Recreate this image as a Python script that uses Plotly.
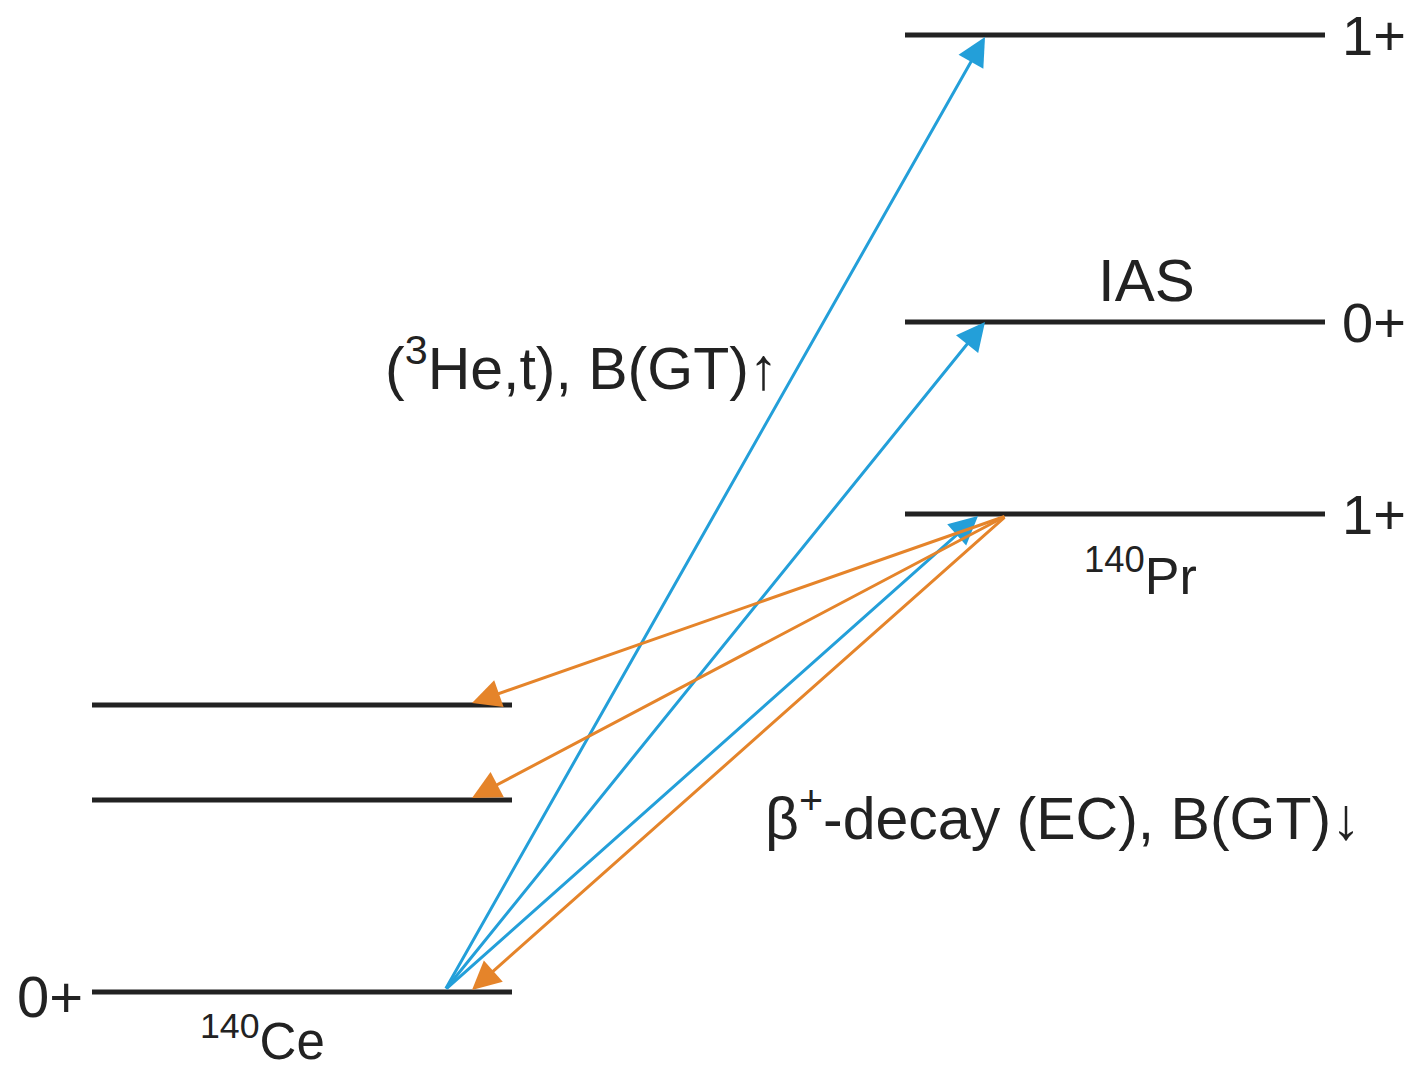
import plotly.graph_objects as go

# Level scheme of 140Ce -> 140Pr (energy in arbitrary drawing units)
ce_levels = [0, 192, 287]          # 140Ce: ground 0+ and two excited states
ce_span = [92, 512]
pr_levels = [478, 670, 957]        # 140Pr: 1+, IAS 0+, 1+
pr_span = [905, 1325]
pr_spins = ["1+", "0+", "1+"]

# Charge-exchange (3He,t) transitions: from 140Ce g.s. to 140Pr states
he3t_start = (445, 2)
he3t_ends_x = [978, 985, 985]
he3t_ends_e = [476, 670, 955]

# beta+ / EC transitions: from 140Pr 1+ to 140Ce states
ec_start = (1006, 476)
ec_ends_x = [472, 472, 472]
ec_ends_e = [289, 194, 2]

BLUE = "#239fd9"
ORANGE = "#e5842a"
BLACK = "#222222"
FONT = "Liberation Sans, Arial, sans-serif"

fig = go.Figure()

for e in ce_levels:
    fig.add_trace(go.Scatter(x=ce_span, y=[e, e], mode="lines",
                             line=dict(color=BLACK, width=5), hoverinfo="skip"))
for e in pr_levels:
    fig.add_trace(go.Scatter(x=pr_span, y=[e, e], mode="lines",
                             line=dict(color=BLACK, width=5), hoverinfo="skip"))

annotations = []


def arrow(x0, y0, x1, y1, color):
    return dict(x=x1, y=y1, ax=x0, ay=y0, xref="x", yref="y", axref="x", ayref="y",
                showarrow=True, arrowhead=2, arrowsize=1.9, arrowwidth=3,
                arrowcolor=color, standoff=0, startstandoff=0, text="")


for xe, ye in zip(he3t_ends_x, he3t_ends_e):
    annotations.append(arrow(he3t_start[0], he3t_start[1], xe, ye, BLUE))
for xe, ye in zip(ec_ends_x, ec_ends_e):
    annotations.append(arrow(ec_start[0], ec_start[1], xe, ye, ORANGE))


def label(x, y, text, size, xanchor="center"):
    return dict(x=x, y=y, xref="x", yref="y", text=text, showarrow=False,
                xanchor=xanchor, yanchor="middle", borderpad=0,
                font=dict(family=FONT, size=size, color=BLACK))


for e, s in zip(pr_levels, pr_spins):
    annotations.append(label(1341, e, s, 56, xanchor="left"))
annotations.append(label(84, ce_levels[0] - 4, "0+", 58, xanchor="right"))
annotations.append(label(1146, pr_levels[1] + 42, "IAS", 60))
annotations.append(label(1140, pr_levels[0] - 58, "<sup>140</sup>Pr", 52))
annotations.append(label(262, ce_levels[0] - 46, "<sup>140</sup>Ce", 51))
annotations.append(label(581, 628, "(<sup>3</sup>He,t), B(GT)↑", 59))
annotations.append(label(1063, 178, "β<sup>+</sup>-decay (EC), B(GT)↓", 59))

fig.update_layout(
    width=1416, height=1071,
    margin=dict(l=0, r=0, t=0, b=0),
    paper_bgcolor="white", plot_bgcolor="white",
    showlegend=False,
    annotations=annotations,
    xaxis=dict(range=[0, 1416], visible=False, fixedrange=True),
    yaxis=dict(range=[-79, 992], visible=False, fixedrange=True),
)

fig.write_html("out.html")
